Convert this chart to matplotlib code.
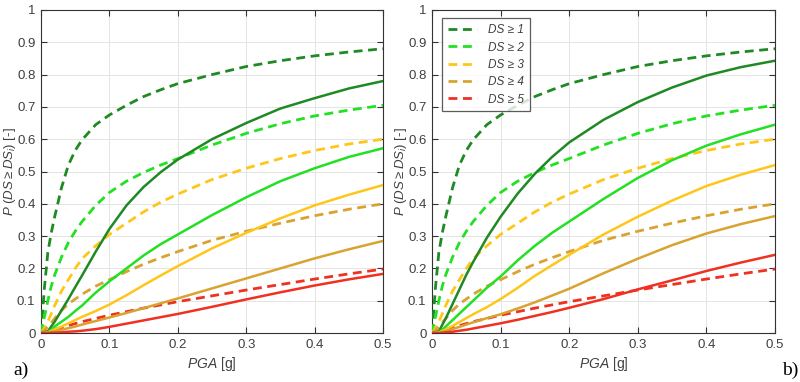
import matplotlib
matplotlib.use("Agg")
import matplotlib.pyplot as plt

plt.rcParams['font.family'] = ['Liberation Sans', 'DejaVu Sans']
plt.rcParams['mathtext.fontset'] = 'custom'
plt.rcParams['mathtext.it'] = 'Liberation Sans:italic'
plt.rcParams['mathtext.rm'] = 'Liberation Sans'
plt.rcParams['mathtext.sf'] = 'Liberation Sans'

# PGA sample points [g]
pga = [0, 0.005, 0.01, 0.015, 0.02, 0.03, 0.04, 0.05, 0.06, 0.08, 0.1,
       0.125, 0.15, 0.175, 0.2, 0.25, 0.3, 0.35, 0.4, 0.45, 0.5]

# Dashed curves (same in both panels)
ds1_dash = [0, 0.14, 0.25, 0.31, 0.36, 0.45, 0.52, 0.565, 0.598, 0.645, 0.675,
            0.705, 0.732, 0.753, 0.772, 0.80, 0.825, 0.843, 0.858, 0.870, 0.880]
ds2_dash = [0, 0.05, 0.10, 0.145, 0.18, 0.235, 0.28, 0.315, 0.345, 0.395, 0.435,
            0.47, 0.497, 0.52, 0.54, 0.582, 0.618, 0.648, 0.672, 0.69, 0.705]
ds3_dash = [0, 0.015, 0.035, 0.06, 0.085, 0.13, 0.165, 0.20, 0.23, 0.27, 0.305,
            0.34, 0.375, 0.405, 0.43, 0.475, 0.51, 0.54, 0.565, 0.585, 0.60]
ds4_dash = [0, 0.008, 0.02, 0.032, 0.045, 0.07, 0.09, 0.105, 0.12, 0.145, 0.165,
            0.19, 0.213, 0.233, 0.252, 0.287, 0.315, 0.34, 0.363, 0.383, 0.40]
ds5_dash = [0, 0.002, 0.005, 0.008, 0.011, 0.017, 0.023, 0.029, 0.035, 0.045, 0.055,
            0.066, 0.077, 0.087, 0.097, 0.115, 0.133, 0.15, 0.167, 0.183, 0.198]

# Solid curves, panel a)
a_ds1 = [0, 0, 0.005, 0.02, 0.035, 0.07, 0.105, 0.142, 0.178, 0.252, 0.322,
         0.395, 0.452, 0.498, 0.537, 0.60, 0.65, 0.695, 0.727, 0.757, 0.78]
a_ds2 = [0, 0, 0.003, 0.01, 0.02, 0.035, 0.05, 0.068, 0.085, 0.125, 0.16,
         0.2, 0.24, 0.275, 0.305, 0.365, 0.42, 0.47, 0.51, 0.545, 0.572]
a_ds3 = [0, 0, 0.002, 0.006, 0.011, 0.02, 0.03, 0.04, 0.05, 0.068, 0.088,
         0.117, 0.148, 0.178, 0.207, 0.262, 0.31, 0.355, 0.395, 0.428, 0.458]
a_ds4 = [0, 0, 0.001, 0.003, 0.005, 0.01, 0.015, 0.02, 0.026, 0.037, 0.048,
         0.062, 0.077, 0.092, 0.107, 0.138, 0.169, 0.20, 0.231, 0.259, 0.285]
a_ds5 = [0, 0, 0, 0.001, 0.001, 0.002, 0.004, 0.005, 0.007, 0.012, 0.019,
         0.029, 0.039, 0.049, 0.059, 0.081, 0.104, 0.126, 0.147, 0.166, 0.183]

# Solid curves, panel b)
b_ds1 = [0, 0, 0.005, 0.025, 0.045, 0.09, 0.135, 0.18, 0.22, 0.295, 0.36,
         0.432, 0.493, 0.545, 0.59, 0.66, 0.715, 0.76, 0.797, 0.823, 0.843]
b_ds2 = [0, 0, 0.003, 0.01, 0.02, 0.04, 0.06, 0.08, 0.1, 0.14, 0.175,
         0.225, 0.27, 0.31, 0.345, 0.415, 0.48, 0.535, 0.58, 0.615, 0.645]
b_ds3 = [0, 0, 0.002, 0.006, 0.011, 0.022, 0.034, 0.046, 0.058, 0.08, 0.105,
         0.14, 0.177, 0.21, 0.242, 0.305, 0.36, 0.41, 0.455, 0.49, 0.52]
b_ds4 = [0, 0, 0.001, 0.003, 0.006, 0.012, 0.019, 0.026, 0.033, 0.046, 0.058,
         0.076, 0.095, 0.116, 0.137, 0.185, 0.23, 0.272, 0.308, 0.337, 0.362]
b_ds5 = [0, 0, 0, 0.001, 0.002, 0.004, 0.007, 0.01, 0.014, 0.022, 0.03,
         0.041, 0.053, 0.065, 0.078, 0.105, 0.135, 0.163, 0.192, 0.218, 0.242]

legend_labels = ['DS \u2265 1', 'DS \u2265 2', 'DS \u2265 3', 'DS \u2265 4', 'DS \u2265 5']
colors = ['#1f8a24', '#22e022', '#ffc61a', '#d9a330', '#f03020']
x_ticks = [0, 0.1, 0.2, 0.3, 0.4, 0.5]
x_ticklabels = ['0', '0.1', '0.2', '0.3', '0.4', '0.5']
y_ticks = [0, 0.1, 0.2, 0.3, 0.4, 0.5, 0.6, 0.7, 0.8, 0.9, 1]
y_ticklabels = ['0', '0.1', '0.2', '0.3', '0.4', '0.5', '0.6', '0.7', '0.8', '0.9', '1']

dashed = [ds1_dash, ds2_dash, ds3_dash, ds4_dash, ds5_dash]
solid_a = [a_ds1, a_ds2, a_ds3, a_ds4, a_ds5]
solid_b = [b_ds1, b_ds2, b_ds3, b_ds4, b_ds5]

fig = plt.figure(figsize=(8, 3.82), dpi=100)
ax_a = fig.add_axes([41/800, 49/382, 342/800, 323/382])
ax_b = fig.add_axes([432/800, 49/382, 343/800, 323/382])

txt_col = '#404040'
for ax, solids in ((ax_a, solid_a), (ax_b, solid_b)):
    for i in range(5):
        ax.plot(pga, dashed[i], color=colors[i], lw=2.0, ls=(0, (3.2, 2.0)),
                label=legend_labels[i], zorder=3)
    for i in range(5):
        ax.plot(pga, solids[i], color=colors[i], lw=1.8, zorder=3)
    ax.set_xlim(0, 0.5)
    ax.set_ylim(0, 1)
    ax.set_xticks(x_ticks)
    ax.set_xticklabels(x_ticklabels)
    ax.set_yticks(y_ticks)
    ax.set_yticklabels(y_ticklabels)
    ax.grid(True, color='#e4e4e4', lw=0.7)
    ax.set_axisbelow(True)
    ax.tick_params(direction='in', length=4, width=0.8, colors='#333333',
                   labelcolor=txt_col, labelsize=9.5, top=True, right=True, pad=4)
    for s in ax.spines.values():
        s.set_color('#333333')
        s.set_linewidth(0.8)
    ax.set_xlabel(r'$PGA$ [g]', fontsize=10, color=txt_col, labelpad=3)
    ax.set_ylabel(r'$P\ (DS \geq DS_i)$ [-]', fontsize=9.5, color=txt_col)
    ax.yaxis.set_label_coords(-0.068, 0.5)

leg = ax_b.legend(loc='upper left', bbox_to_anchor=(0.02, 0.985), handlelength=2.4,
                  prop={'style': 'italic', 'size': 8.5}, frameon=True, fancybox=False,
                  borderpad=0.5, labelspacing=0.45, handletextpad=1.0, borderaxespad=0.3)
leg.get_frame().set_edgecolor('#333333')
leg.get_frame().set_linewidth(0.9)
for t in leg.get_texts():
    t.set_color(txt_col)

fig.text(13/800, 1 - 370/382, 'a)', family='Liberation Serif', fontsize=14, va='center', ha='left')
fig.text(782/800, 1 - 370/382, 'b)', family='Liberation Serif', fontsize=14, va='center', ha='left')

fig.savefig('out.png', dpi=100)
